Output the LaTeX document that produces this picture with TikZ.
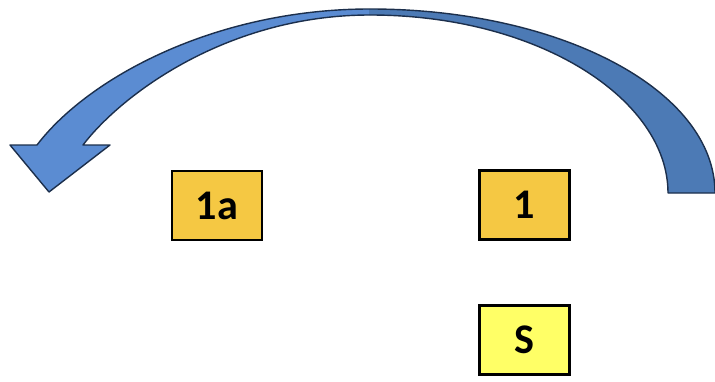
\documentclass[tikz,border=0pt]{standalone}
\usepackage{fontspec}
\setsansfont{Carlito}
\usepackage{tikz}
\usetikzlibrary{calc}

\definecolor{arrowfront}{HTML}{5B8CD2}
\definecolor{arrowback}{HTML}{4C7AB5}
\definecolor{arrowline}{HTML}{1C2F4C}
\definecolor{boxgold}{HTML}{F5C843}
\definecolor{boxyellow}{HTML}{FFFF66}

\tikzset{
	box/.style={draw=black, line width=2pt, minimum width=2.25cm, minimum height=1.725cm,
		inner sep=0pt, font=\sffamily\bfseries\fontsize{30}{32}\selectfont},
	goldbox/.style={box, fill=boxgold},
	yellowbox/.style={box, fill=boxyellow}
}

\begin{document}
\begin{tikzpicture}[x=0.025cm, y=-0.025cm]
			%%%%% START %%%%%
			
			\useasboundingbox (0, 0) rectangle (715, 381);
			
			% curved arrow, front part (with the head)
			\fill[arrowfront] (371, 9) .. controls (215, 9) and (88, 78) .. (37, 145)
				-- (10, 145) -- (49, 192) -- (110, 145) -- (83, 145)
				.. controls (122, 94) and (228, 15) .. (371, 15) -- cycle;
			
			% curved arrow, back part (with the tail)
			\fill[arrowback] (369, 9) .. controls (560, 9) and (715, 90) .. (715, 193)
				-- (668, 193)
				.. controls (668, 100) and (540, 15) .. (369, 15) -- cycle;
			
			% outline of the whole arrow
			\draw[arrowline, line width=1pt, line join=round]
				(715, 193) .. controls (715, 90) and (560, 9) .. (370, 9)
				.. controls (215, 9) and (88, 78) .. (37, 145)
				-- (10, 145) -- (49, 192) -- (110, 145) -- (83, 145)
				.. controls (122, 94) and (228, 15) .. (370, 15)
				.. controls (540, 15) and (668, 100) .. (668, 193)
				-- cycle;
			
			% boxes
			\node[goldbox] (b1a) at (217, 205.5) {1a};
			\node[goldbox] (b1) at (524.5, 205) {1};
			\node[yellowbox] (bS) at (524.5, 340) {S};
			
			%%%%% END %%%%%
\end{tikzpicture}
\end{document}
